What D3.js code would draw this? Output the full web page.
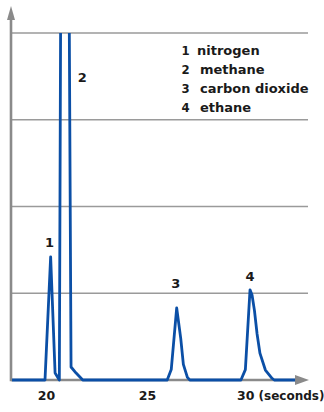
<!DOCTYPE html>
<html>
<head>
<meta charset="utf-8">
<script src="https://cdn.jsdelivr.net/npm/d3@7"></script>
<style>
  html, body { margin: 0; padding: 0; background: #fff; }
  svg { display: block; }
  text { font-family: "DejaVu Sans", Verdana, sans-serif; font-weight: bold; fill: #1a1a1a; }
</style>
</head>
<body>
<svg id="chart" width="324" height="412"></svg>
<script>
// Chromatogram trace: retention time (s) and detector response (grid units)
const times = [18.32, 19.95, 20.23, 20.45, 20.66, 20.90, 21.24, 21.49, 21.82,
               26.00, 26.20, 26.47, 26.67, 26.80, 27.00, 27.12,
               29.65, 29.87, 30.10, 30.20, 30.32, 30.45, 30.59, 30.86, 31.19, 31.30, 32.33];
const response = [0, 0, 1.42, 0.08, 0, 15.5, 0.15, 0.08, 0,
                  0, 0.12, 0.83, 0.48, 0.18, 0.03, 0,
                  0, 0.12, 1.04, 0.98, 0.80, 0.53, 0.31, 0.115, 0.02, 0, 0];

// Peaks: number, compound, apex time, apex response
const peakNumbers = ["1", "2", "3", "4"];
const compounds = ["nitrogen", "methane", "carbon dioxide", "ethane"];
const peakTimes = [20.23, 20.90, 26.47, 30.10];
const peakValues = [1.42, 15.5, 0.83, 1.04];

// Axis ticks
const xTicks = [20, 25, 30];
const xTickLabels = ["20", "25", "30"];
const xUnit = "(seconds)";
const gridValues = [1, 2, 3, 4];

const svg = d3.select("#chart");
const blue = "#0b4fa6";
const axisGray = "#8a8a8a";
const gridGray = "#9a9a9a";

const x = d3.scaleLinear().domain([20, 30]).range([46, 248]);
const y = d3.scaleLinear().domain([0, 4]).range([380, 33]);
const axisX0 = 11, axisX1 = 309, axisYTop = 6;

// horizontal gridlines
svg.append("g").selectAll("line").data(gridValues).join("line")
  .attr("x1", axisX0).attr("x2", 308)
  .attr("y1", d => y(d)).attr("y2", d => y(d))
  .attr("stroke", gridGray).attr("stroke-width", 1.4);

// x axis with arrow
svg.append("line").attr("x1", axisX0).attr("x2", 296)
  .attr("y1", y(0)).attr("y2", y(0))
  .attr("stroke", axisGray).attr("stroke-width", 2.6);
svg.append("path")
  .attr("d", `M295,${y(0) - 5}L${axisX1},${y(0)}L295,${y(0) + 5}Z`)
  .attr("fill", axisGray);

// y axis with arrow
svg.append("line").attr("x1", axisX0).attr("x2", axisX0)
  .attr("y1", y(0) + 1.3).attr("y2", 18)
  .attr("stroke", axisGray).attr("stroke-width", 2.6);
svg.append("path")
  .attr("d", `M${axisX0 - 4},20L${axisX0},${axisYTop}L${axisX0 + 4},20Z`)
  .attr("fill", axisGray);

// tick labels via bottom axis
const xAxis = d3.axisBottom(x).tickValues(xTicks)
  .tickSize(0).tickPadding(0)
  .tickFormat((d, i) => xTickLabels[i]);
const gx = svg.append("g").attr("transform", `translate(0,${y(0)})`).call(xAxis);
gx.select(".domain").remove();
gx.selectAll("text")
  .attr("y", 20).attr("dy", 0)
  .style("font-family", "DejaVu Sans, Verdana, sans-serif")
  .style("font-weight", "bold").style("font-size", "12.5px").attr("fill", "#1a1a1a");
// unit follows the last tick label
const lastTick = gx.selectAll(".tick").filter((d, i, n) => i === n.length - 1).select("text");
lastTick.attr("text-anchor", "start").attr("x", -11.5)
  .append("tspan").attr("font-size", "12px").text(" " + xUnit);

// trace, clipped at the top gridline
svg.append("clipPath").attr("id", "plotClip")
  .append("rect").attr("x", 0).attr("y", y(4)).attr("width", 324).attr("height", 412 - y(4));

const pts = times.map((t, i) => [t, response[i]]);
const line = d3.line().x(d => x(d[0])).y(d => y(d[1]));
svg.append("path")
  .attr("clip-path", "url(#plotClip)")
  .attr("d", line(pts))
  .attr("fill", "none")
  .attr("stroke", blue)
  .attr("stroke-width", 2.8)
  .attr("stroke-linejoin", "round");

// peak number labels
const labelOffsets = [{dx: -1, dy: -10}, {dx: 18, dy: null, y: 82}, {dx: -1, dy: -20}, {dx: 0, dy: -9}];
svg.append("g").selectAll("text").data(peakNumbers).join("text")
  .attr("x", (d, i) => x(peakTimes[i]) + labelOffsets[i].dx)
  .attr("y", (d, i) => labelOffsets[i].y != null ? labelOffsets[i].y
                                                 : y(peakValues[i]) + labelOffsets[i].dy)
  .attr("text-anchor", "middle")
  .style("font-size", "13px")
  .text(d => d);

// legend
const legend = svg.append("g");
const rowY = i => 54.5 + i * 19.1;
legend.selectAll("text.num").data(peakNumbers).join("text")
  .attr("class", "num")
  .attr("x", 181.5).attr("y", (d, i) => rowY(i))
  .style("font-family", "'Liberation Sans Narrow', 'DejaVu Sans Condensed', sans-serif")
  .style("font-size", "13px")
  .text(d => d);
legend.selectAll("text.name").data(compounds).join("text")
  .attr("class", "name")
  .attr("x", (d, i) => i === 0 ? 197 : 200).attr("y", (d, i) => rowY(i))
  .style("font-size", "13px")
  .text(d => d);
</script>
</body>
</html>
